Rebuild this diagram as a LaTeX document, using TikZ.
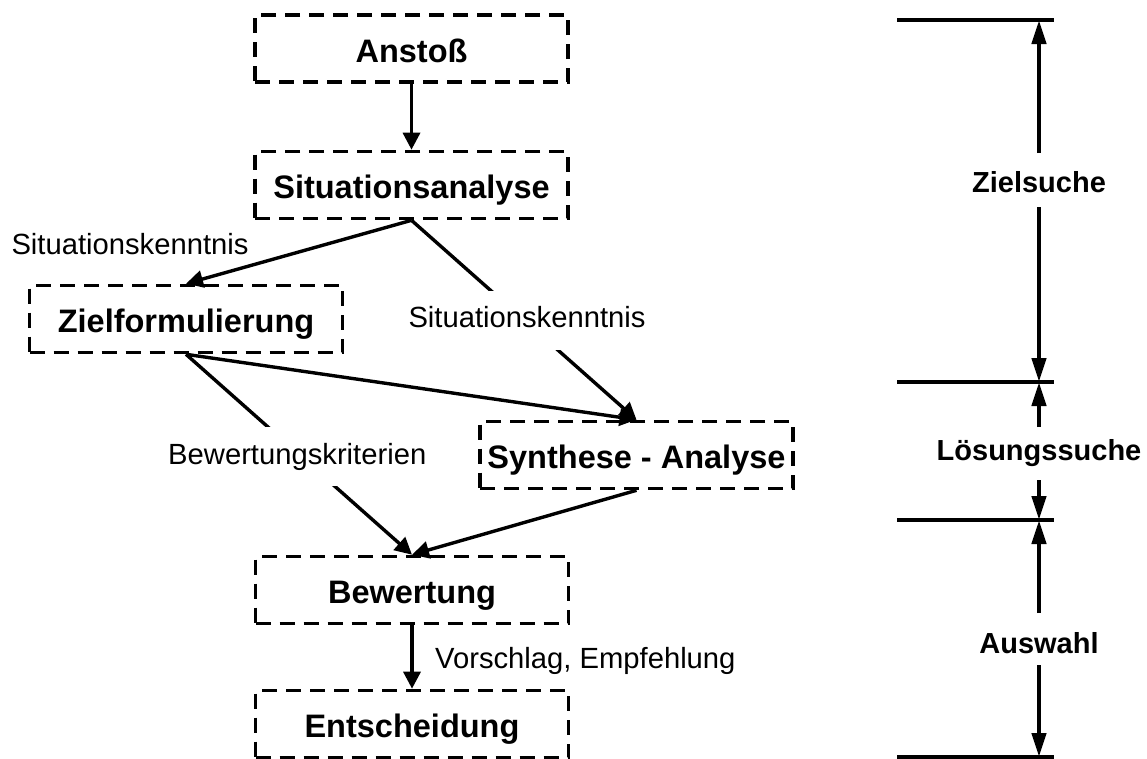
\documentclass[tikz,border=0pt]{standalone}
\usepackage{fontspec}
\setmainfont{Liberation Sans}
\usetikzlibrary{arrows.meta}
\begin{document}
\begin{tikzpicture}[x=1pt,y=-1pt,
  box/.style={draw, line width=3.6pt, dash pattern=on 15pt off 9pt, minimum width=313pt, minimum height=67pt, inner sep=0pt, text height=33pt, text depth=6pt, font=\fontsize{32.5}{39}\selectfont\bfseries},
  flow/.style={line width=3.4pt, -{Triangle[length=17pt,width=17pt]}},
  lbl/.style={font=\fontsize{29.2}{35}\selectfont, inner sep=0pt, text height=21pt, text depth=6pt},
  cut/.style={lbl, fill=white, inner xsep=2pt, inner ysep=16pt},
  phase/.style={font=\fontsize{29}{35}\selectfont\bfseries, inner sep=0pt},
  rule/.style={line width=3.3pt},
  span/.style={line width=4.5pt, -{Triangle[length=24pt,width=14pt]}}
]
\useasboundingbox (0,0) rectangle (1147,758);

% process boxes
\node[box] (an)  at (411.5,48.5) {Anstoß};
\node[box] (sa)  at (411.5,185)  {Situationsanalyse};
\node[box] (zf)  at (186,319)    {Zielformulierung};
\node[box] (syn) at (636.5,455)  {Synthese - Analyse};
\node[box] (bw)  at (412,590)    {Bewertung};
\node[box] (en)  at (412,724)    {Entscheidung};

% connectors
\draw[flow] (an.south) -- (sa.north);
\draw[flow] (sa.south) -- (zf.north);
\node[lbl] (l1) at (130,247) {Situationskenntnis};
\draw[flow] (sa.south) -- node[cut,pos=0.5,xshift=3pt] (l2) {Situationskenntnis} (syn.north);
\draw[flow] (zf.south) -- (syn.north);
\draw[flow] (zf.south) -- node[cut,pos=0.51,xshift=-4pt] (l3) {Bewertungskriterien} (bw.north);
\draw[flow] (syn.south) -- (bw.north);
\draw[flow] (bw.south) -- (en.north);
\node[lbl, anchor=west] (l4) at (435,660.5) {Vorschlag, Empfehlung};

% phase scale
\draw[rule] (897,20)  -- (1054,20);
\draw[rule] (897,382) -- (1054,382);
\draw[rule] (897,520) -- (1054,520);
\draw[rule] (897,757) -- (1054,757);

\coordinate (t1) at (1039,20);
\coordinate (t2) at (1039,382);
\coordinate (t3) at (1039,520);
\coordinate (t4) at (1039,757);

\node[phase] (p1) at (1039,182) {Zielsuche};
\node[phase] (p2) at (1039,453) {Lösungssuche};
\node[phase] (p3) at (1039,643) {Auswahl};

\coordinate (a1) at (1039,153);
\coordinate (b1) at (1039,207);
\coordinate (a2) at (1039,427);
\coordinate (b2) at (1039,480);
\coordinate (a3) at (1039,613);
\coordinate (b3) at (1039,665);

\draw[span] (a1) -- (t1);
\draw[span] (b1) -- (t2);
\draw[span] (a2) -- (t2);
\draw[span] (b2) -- (t3);
\draw[span] (a3) -- (t3);
\draw[span] (b3) -- (t4);
\end{tikzpicture}
\end{document}
